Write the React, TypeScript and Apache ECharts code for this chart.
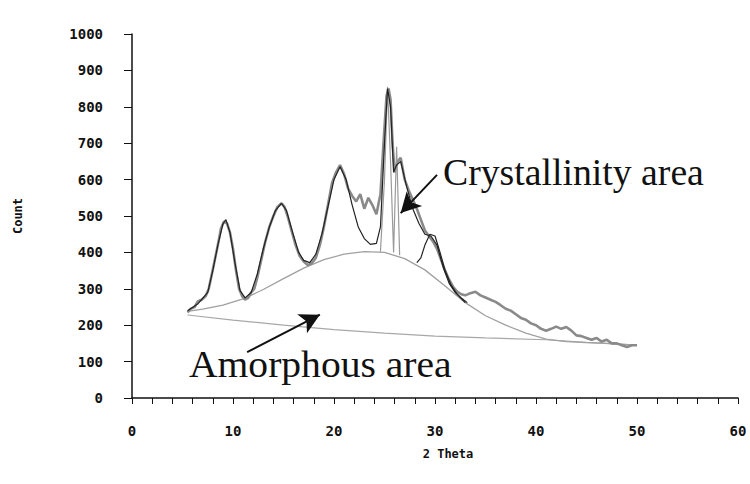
import React, { useEffect, useRef } from "react";
import * as echarts from "echarts";

// Observed diffraction pattern (2θ, count)
const obsX = [5.5, 5.8, 6.2, 6.5, 6.9, 7.3, 7.6, 7.9, 8.2, 8.5, 8.8, 9.1, 9.4, 9.7, 10.0, 10.3, 10.6, 10.9, 11.2, 11.5, 11.8, 12.1, 12.4, 12.8, 13.2, 13.6, 14.0, 14.4, 14.8, 15.1, 15.4, 15.8, 16.2, 16.6, 17.0, 17.4, 17.8, 18.2, 18.6, 19.0, 19.4, 19.8, 20.2, 20.6, 21.0, 21.4, 21.8, 22.2, 22.6, 23.0, 23.4, 23.8, 24.2, 24.6, 24.9, 25.2, 25.4, 25.6, 25.8, 26.0, 26.3, 26.6, 27.0, 27.4, 27.8, 28.2, 28.6, 29.0, 29.4, 29.8, 30.2, 30.6, 31.0, 31.4, 31.8, 32.2, 32.6, 33.0, 33.5, 34.0, 34.5, 35.0, 35.5, 36.0, 36.5, 37.0, 37.5, 38.0, 38.5, 39.0, 39.5, 40.0, 40.5, 41.0, 41.5, 42.0, 42.5, 43.0, 43.5, 44.0, 44.5, 45.0, 45.5, 46.0, 46.5, 47.0, 47.5, 48.0, 48.5, 49.0, 49.5, 50.0];
const obsY = [235, 245, 250, 265, 270, 280, 300, 340, 380, 420, 465, 485, 480, 455, 410, 350, 300, 280, 270, 275, 290, 300, 330, 380, 430, 470, 500, 525, 535, 525, 500, 460, 420, 390, 375, 365, 370, 385, 420, 470, 530, 590, 620, 640, 615, 575, 555, 540, 560, 520, 550, 530, 505, 560, 700, 830, 850, 820, 700, 620, 650, 660, 600, 570, 545, 520, 490, 460, 445, 430, 410, 380, 350, 325, 305, 292, 285, 282, 288, 292, 282, 276, 270, 264, 255, 245, 240, 230, 220, 215, 205, 200, 190, 185, 190, 196, 190, 195, 185, 172, 170, 165, 160, 165, 155, 160, 150, 150, 145, 140, 145, 145];

// Fitted profile
const fitX = [5.5, 6.5, 7.5, 8.0, 8.5, 9.0, 9.3, 9.7, 10.2, 10.7, 11.2, 11.8, 12.4, 13.0, 13.6, 14.2, 14.8, 15.3, 15.9, 16.5, 17.0, 17.6, 18.2, 18.8, 19.4, 20.0, 20.6, 21.2, 21.8, 22.4, 23.0, 23.6, 24.2, 24.6, 25.0, 25.3, 25.6, 25.9, 26.2, 26.6, 27.2, 27.8, 28.4, 29.0, 29.6, 30.2, 30.8, 31.4, 32.0, 32.6, 33.2];
const fitY = [240, 258, 290, 350, 420, 478, 490, 455, 370, 295, 275, 290, 340, 410, 470, 515, 535, 515, 455, 400, 378, 372, 395, 450, 525, 600, 635, 600, 530, 470, 438, 422, 425, 470, 700, 850, 800, 620, 640, 650, 580, 520, 480, 450, 445, 420, 360, 315, 290, 275, 262];

// Amorphous halo
const amorX = [5.5, 7, 9, 11, 13, 15, 17, 19, 21, 23, 25, 27, 29, 31, 33, 35, 37, 39, 41, 43, 45, 47, 50];
const amorY = [238, 244, 255, 272, 298, 328, 357, 380, 395, 402, 400, 383, 352, 308, 262, 226, 200, 178, 162, 155, 152, 150, 145];

// Background line
const baseX = [5.5, 10, 15, 20, 25, 30, 35, 41, 45, 50];
const baseY = [228, 214, 200, 188, 178, 170, 165, 160, 153, 145];

// Fitted crystalline peak near 30°
const pk30X = [28.2, 28.6, 29.0, 29.5, 30.0, 30.5, 31.0, 31.6, 32.2, 33.0];
const pk30Y = [372, 385, 420, 450, 445, 400, 350, 310, 285, 262];

// Sharp crystalline peak outline
const crysX = [24.6, 25.0, 25.3, 25.6, 25.9, 26.2, 26.5];
const crysY = [402, 600, 855, 650, 400, 690, 392];

// Annotation arrows [start, end] in data coords
const crysArrow = [[30.2, 613], [26.6, 508]];
const amorArrow = [[11.4, 126], [18.6, 229]];

const xTicks = [0, 10, 20, 30, 40, 50, 60];
const yTicks = [0, 100, 200, 300, 400, 500, 600, 700, 800, 900, 1000];

const zip = (xs: number[], ys: number[]) => xs.map((x, i) => [x, ys[i]]);

export default function App() {
  const ref = useRef<HTMLDivElement>(null);
  useEffect(() => {
    if (!ref.current) return;
    const chart = echarts.init(ref.current, null, { renderer: "svg" });
    const labelFont = {
      fontFamily: "DejaVu Sans Mono",
      fontWeight: "bold" as const,
      fontSize: 14,
      color: "#111",
    };
    const thin = (color: string, width: number) => ({
      type: "line" as const,
      showSymbol: false,
      silent: true,
      lineStyle: { color, width },
    });
    chart.setOption({
      animation: false,
      backgroundColor: "#fff",
      grid: { left: 132, right: 12, top: 34, bottom: 86 },
      xAxis: {
        type: "value",
        min: xTicks[0],
        max: xTicks[xTicks.length - 1],
        interval: 10,
        name: "2 Theta",
        nameLocation: "middle",
        nameGap: 50,
        nameTextStyle: { ...labelFont, fontSize: 12, padding: [0, 0, 0, 26] },
        axisLine: { show: true, lineStyle: { color: "#111", width: 1.5 } },
        axisTick: { show: true, length: 6, lineStyle: { color: "#111" } },
        minorTick: { show: true, splitNumber: 5, length: 6, lineStyle: { color: "#111" } },
        axisLabel: { ...labelFont, margin: 26, formatter: (v: number) => String(v) },
        splitLine: { show: false },
      },
      yAxis: {
        type: "value",
        min: yTicks[0],
        max: yTicks[yTicks.length - 1],
        interval: 100,
        name: "Count",
        nameLocation: "middle",
        nameGap: 108,
        nameTextStyle: { ...labelFont, fontSize: 12 },
        axisLine: { show: true, lineStyle: { color: "#111", width: 1.5 } },
        axisTick: { show: true, length: 8, lineStyle: { color: "#111" } },
        axisLabel: { ...labelFont, margin: 29, formatter: (v: number) => String(v) },
        splitLine: { show: false },
      },
      series: [
        { ...thin("#a8a8a8", 1.2), name: "Background", data: zip(baseX, baseY),
          markLine: {
            silent: true,
            symbol: ["none", "arrow"],
            symbolSize: [16, 20],
            label: { show: false },
            lineStyle: { color: "#111", width: 2, type: "solid" },
            data: [
              [{ coord: crysArrow[0] }, { coord: crysArrow[1] }],
              [{ coord: amorArrow[0] }, { coord: amorArrow[1] }],
            ],
          },
        },
        { ...thin("#a0a0a0", 1.3), name: "Amorphous", data: zip(amorX, amorY) },
        { ...thin("#8a8a8a", 2.6), name: "Observed", data: zip(obsX, obsY) },
        { ...thin("#9a9a9a", 1.2), name: "Crystal", data: zip(crysX, crysY) },
        { ...thin("#222", 1.2), name: "Fit", data: zip(fitX, fitY) },
        { ...thin("#222", 1.2), name: "Peak30", data: zip(pk30X, pk30Y) },
      ],
      graphic: [
        {
          type: "text",
          x: 443,
          y: 154,
          scaleX: 1.02,
          style: { text: "Crystallinity area", font: "37px 'Liberation Serif'", fill: "#111" },
        },
        {
          type: "text",
          x: 189,
          y: 346,
          scaleX: 1.07,
          style: { text: "Amorphous area", font: "37px 'Liberation Serif'", fill: "#111" },
        },
      ],
    });
    return () => chart.dispose();
  }, []);
  return (
    <div
      ref={ref}
      style={{ position: "fixed", left: 0, top: 0, width: 750, height: 484 }}
    />
  );
}
